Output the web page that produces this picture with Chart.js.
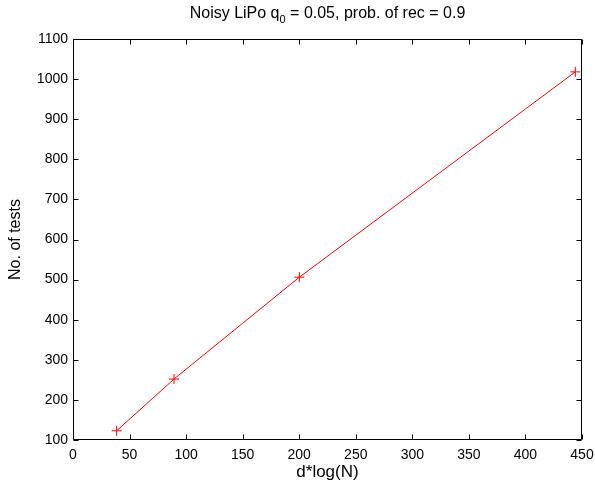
<!DOCTYPE html>
<html>
<head>
<meta charset="utf-8">
<script src="https://cdn.jsdelivr.net/npm/chart.js@4.4.1/dist/chart.umd.min.js"></script>
<style>
  html, body { margin: 0; padding: 0; background: #fff; }
  #wrap { position: relative; width: 595px; height: 483px; }
  #title { position: absolute; left: 73px; width: 509px; top: 5px; text-align: center; line-height: 16px;
           font-family: "Liberation Sans", Arial, sans-serif; font-size: 16px; color: #000; white-space: nowrap; }
  #title sub { font-size: 11px; vertical-align: -5px; line-height: 0; }
</style>
</head>
<body>
<div id="wrap">
  <canvas id="c" width="595" height="483"></canvas>
  <div id="title">Noisy LiPo q<sub>0</sub> = 0.05, prob. of rec = 0.9</div>
</div>
<script>
const xValues = [38.6, 89.3, 200.1, 444.1];
const testCounts = [123, 252, 506, 1018];
const xTickValues = [0, 50, 100, 150, 200, 250, 300, 350, 400, 450];
const yTickValues = [100, 200, 300, 400, 500, 600, 700, 800, 900, 1000, 1100];
const xLabel = 'd*log(N)';
const yLabel = 'No. of tests';

const FAMILY = '"Liberation Sans", Arial, sans-serif';
const TICKFONT = { family: FAMILY, size: 14 };

const boxPlugin = {
  id: 'boxTicks',
  afterDraw(chart) {
    const ctx = chart.ctx;
    const a = chart.chartArea;
    const xs = chart.scales.x, ys = chart.scales.y;
    const L = Math.round(a.left) + 0.5, R = Math.round(a.right) - 0.5;
    const T = Math.round(a.top) + 0.5, B = Math.round(a.bottom) - 0.5;
    const len = 5;
    ctx.save();
    ctx.strokeStyle = '#000';
    ctx.lineWidth = 1;
    ctx.beginPath();
    ctx.rect(L, T, R - L, B - T);
    xTickValues.forEach(v => {
      const px = Math.round(xs.getPixelForValue(v)) + 0.5;
      ctx.moveTo(px, B); ctx.lineTo(px, B - len);
      ctx.moveTo(px, T); ctx.lineTo(px, T + len);
    });
    yTickValues.forEach(v => {
      const py = Math.round(ys.getPixelForValue(v)) + 0.5;
      ctx.moveTo(L, py); ctx.lineTo(L + len, py);
      ctx.moveTo(R, py); ctx.lineTo(R - len, py);
    });
    ctx.stroke();
    ctx.restore();
  }
};

new Chart(document.getElementById('c'), {
  type: 'scatter',
  data: {
    datasets: [{
      data: xValues.map((x, i) => ({ x: x, y: testCounts[i] })),
      showLine: true,
      borderColor: '#ff0000',
      borderWidth: 1,
      backgroundColor: '#ff0000',
      pointStyle: 'cross',
      pointRadius: 5,
      pointBorderWidth: 1,
      pointBorderColor: '#ff0000',
      pointHoverRadius: 5
    }]
  },
  options: {
    responsive: false,
    animation: false,
    devicePixelRatio: 1,
    layout: { padding: { left: 5, right: 13, top: 39, bottom: 0 } },
    plugins: { legend: { display: false }, tooltip: { enabled: false }, title: { display: false } },
    scales: {
      x: {
        type: 'linear', min: 0, max: 450,
        afterBuildTicks: s => { s.ticks = xTickValues.map(v => ({ value: v })); },
        afterFit: s => { s.height = 43; s.paddingLeft = 0; s.paddingRight = 0; },
        grid: { display: false, drawTicks: false },
        border: { display: false },
        ticks: { color: '#000', font: TICKFONT, padding: 7, maxRotation: 0, callback: v => String(v) },
        title: { display: true, text: xLabel, color: '#000', font: { family: FAMILY, size: 17 }, padding: { top: 0, bottom: 0 } }
      },
      y: {
        type: 'linear', min: 100, max: 1100,
        afterBuildTicks: s => { s.ticks = yTickValues.map(v => ({ value: v })); },
        afterFit: s => { s.width = 68; s.paddingTop = 0; s.paddingBottom = 0; },
        grid: { display: false, drawTicks: false },
        border: { display: false },
        ticks: { color: '#000', font: TICKFONT, padding: 5, callback: v => String(v) },
        title: { display: true, text: yLabel, color: '#000', font: { family: FAMILY, size: 16 }, padding: { top: 1, bottom: 0 } }
      }
    }
  },
  plugins: [boxPlugin]
});
</script>
</body>
</html>
